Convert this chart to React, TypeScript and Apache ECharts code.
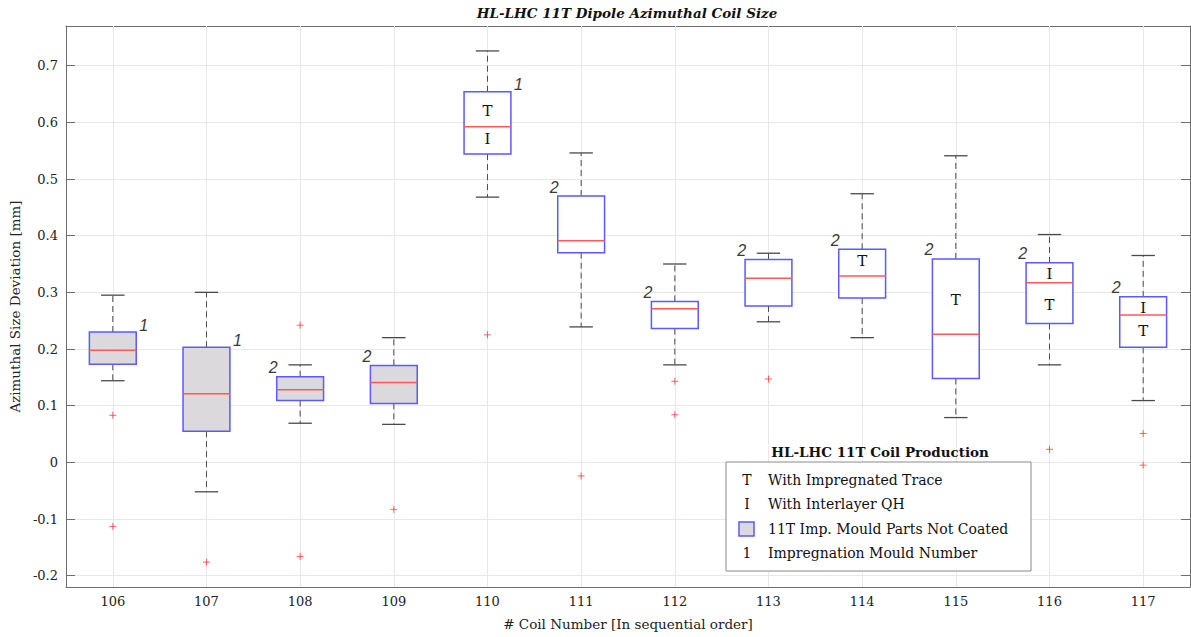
import React, { useEffect, useRef } from "react";
import * as echarts from "echarts";

const categories = ["106", "107", "108", "109", "110", "111", "112", "113", "114", "115", "116", "117"];
const upperWhisker = [0.295, 0.3, 0.172, 0.22, 0.726, 0.546, 0.35, 0.369, 0.474, 0.541, 0.402, 0.365];
const q3 = [0.23, 0.203, 0.151, 0.171, 0.654, 0.47, 0.284, 0.358, 0.376, 0.359, 0.352, 0.292];
const median = [0.198, 0.121, 0.128, 0.141, 0.592, 0.391, 0.271, 0.325, 0.329, 0.226, 0.317, 0.26];
const q1 = [0.173, 0.055, 0.109, 0.104, 0.544, 0.37, 0.236, 0.276, 0.29, 0.148, 0.245, 0.203];
const lowerWhisker = [0.144, -0.052, 0.069, 0.067, 0.468, 0.239, 0.172, 0.248, 0.22, 0.079, 0.172, 0.109];
const outliers: [string, number][] = [
  ["106", 0.083], ["106", -0.113], ["107", -0.176], ["108", 0.242], ["108", -0.166],
  ["109", -0.083], ["110", 0.225], ["111", -0.024], ["112", 0.143], ["112", 0.084],
  ["113", 0.147], ["116", 0.023], ["117", 0.051], ["117", -0.005],
];
const mouldNumber = [1, 1, 2, 2, 1, 2, 2, 2, 2, 2, 2, 2];
const uncoated = [true, true, true, true, false, false, false, false, false, false, false, false];
const traceLabelY: (number | null)[] = [null, null, null, null, 0.62, null, null, null, 0.356, 0.287, 0.278, 0.231];
const qhLabelY: (number | null)[] = [null, null, null, null, 0.571, null, null, null, null, null, 0.332, 0.273];

const chartTitle = "HL-LHC 11T Dipole Azimuthal Coil Size";
const xName = "# Coil Number [In sequential order]";
const yName = "Azimuthal Size Deviation [mm]";
const legendTitle = "HL-LHC 11T Coil Production";
const legendRows = [
  { key: "T", text: "With Impregnated Trace" },
  { key: "I", text: "With Interlayer QH" },
  { key: "box", text: "11T Imp. Mould Parts Not Coated" },
  { key: "1", text: "Impregnation Mould Number" },
];

const SERIF = "'DejaVu Serif', 'Liberation Serif', serif";
const SANS = "'Liberation Sans', 'DejaVu Sans', sans-serif";
const GRID = "#ebe6eb";
const AXIS = "#6e6e6e";
const BLUE = "#5a5aff";
const RED = "#ff5a5a";
const FILL = "#dcd9dc";

export default function App() {
  const ref = useRef<HTMLDivElement>(null);
  useEffect(() => {
    document.body.style.margin = "0";
    if (!ref.current) return;
    const chart = echarts.init(ref.current, undefined, { renderer: "svg" });

    const boxData = categories.map((c, i) => [i, lowerWhisker[i], q1[i], median[i], q3[i], upperWhisker[i]]);

    const textStyle = (text: string, x: number, y: number, align: string, vAlign: string, font: string, fill: string) => ({
      text, x, y, align, verticalAlign: vAlign, font, fill, stroke: "none", lineWidth: 0,
    });

    const renderItem = (params: any, api: any) => {
      const i = params.dataIndex;
      const idx = api.value(0);
      const band = api.size([1, 0])[0];
      const half = band * 0.25;
      const capHalf = band * 0.125;
      const pLo = api.coord([idx, api.value(1)]);
      const pQ1 = api.coord([idx, api.value(2)]);
      const pMed = api.coord([idx, api.value(3)]);
      const pQ3 = api.coord([idx, api.value(4)]);
      const pHi = api.coord([idx, api.value(5)]);
      const cx = pMed[0];
      const whiskerStyle = { stroke: "#4a4a4a", lineWidth: 1, lineDash: [6, 4], fill: "none" };
      const capStyle = { stroke: "#4a4a4a", lineWidth: 1.3, fill: "none" };
      const children: any[] = [
        { type: "line", shape: { x1: cx, y1: pQ3[1], x2: cx, y2: pHi[1] }, style: whiskerStyle },
        { type: "line", shape: { x1: cx, y1: pQ1[1], x2: cx, y2: pLo[1] }, style: whiskerStyle },
        { type: "line", shape: { x1: cx - capHalf, y1: pHi[1], x2: cx + capHalf, y2: pHi[1] }, style: capStyle },
        { type: "line", shape: { x1: cx - capHalf, y1: pLo[1], x2: cx + capHalf, y2: pLo[1] }, style: capStyle },
        {
          type: "rect",
          shape: { x: cx - half, y: pQ3[1], width: half * 2, height: pQ1[1] - pQ3[1] },
          style: { fill: uncoated[i] ? FILL : "#ffffff", stroke: BLUE, lineWidth: 1.5 },
        },
        { type: "line", shape: { x1: cx - half, y1: pMed[1], x2: cx + half, y2: pMed[1] }, style: { stroke: RED, lineWidth: 1.5, fill: "none" } },
      ];
      const m = mouldNumber[i];
      children.push({
        type: "text",
        style: textStyle(
          String(m),
          m === 1 ? cx + half + 3 : cx - half + 1,
          pQ3[1] + (m === 1 ? 1 : -1),
          m === 1 ? "left" : "right",
          "bottom",
          `italic 16px ${SANS}`,
          "#3a3a3a"
        ),
      });
      const t = traceLabelY[i];
      if (t !== null) {
        const p = api.coord([idx, t]);
        children.push({ type: "text", style: textStyle("T", cx, p[1], "center", "middle", `15px ${SERIF}`, "#111") });
      }
      const q = qhLabelY[i];
      if (q !== null) {
        const p = api.coord([idx, q]);
        children.push({ type: "text", style: textStyle("I", cx, p[1], "center", "middle", `15px ${SERIF}`, "#111") });
      }
      return { type: "group", children };
    };

    const lx = 726, ly = 462, lw = 305, lh = 109;
    const rowY = [480, 504, 529, 553];
    const graphicEls: any[] = [
      { type: "text", z: 100, style: { text: chartTitle, x: 627, y: 13, align: "center", verticalAlign: "middle", font: `italic bold 13.5px ${SERIF}`, fill: "#111" } },
      { type: "text", z: 100, style: { text: legendTitle, x: 880, y: 452, align: "center", verticalAlign: "middle", font: `bold 13.5px ${SERIF}`, fill: "#111" } },
      { type: "rect", z: 100, shape: { x: lx, y: ly, width: lw, height: lh }, style: { fill: "#fff", stroke: "#8a8a8a", lineWidth: 1 } },
    ];
    legendRows.forEach((r, k) => {
      if (r.key === "box") {
        graphicEls.push({ type: "rect", z: 101, shape: { x: 739, y: rowY[k] - 7, width: 15, height: 14 }, style: { fill: FILL, stroke: BLUE, lineWidth: 1.5 } });
      } else {
        graphicEls.push({ type: "text", z: 101, style: { text: r.key, x: 747, y: rowY[k], align: "center", verticalAlign: "middle", font: `14px ${SERIF}`, fill: "#111" } });
      }
      graphicEls.push({ type: "text", z: 101, style: { text: r.text, x: 768, y: rowY[k], align: "left", verticalAlign: "middle", font: `14px ${SERIF}`, fill: "#111" } });
    });

    const yCommon = {
      type: "value" as const,
      min: -0.22,
      max: 0.77,
      splitNumber: 10,
    };

    chart.setOption({
      animation: false,
      backgroundColor: "#ffffff",
      grid: { left: 62, right: 1, top: 26, bottom: 50, show: false },
      xAxis: [
        {
          type: "category",
          data: categories,
          position: "bottom",
          name: xName,
          nameLocation: "middle",
          nameGap: 30,
          nameTextStyle: { fontFamily: SERIF, fontSize: 13.5, color: "#222" },
          axisLine: { show: true, onZero: false, lineStyle: { color: AXIS, width: 1 } },
          axisTick: { show: true, inside: true, alignWithLabel: true, length: 9, lineStyle: { color: AXIS } },
          axisLabel: { fontFamily: SERIF, fontSize: 13, color: "#222", margin: 8 },
          splitLine: { show: false },
        },
        {
          type: "category",
          data: categories,
          position: "top",
          axisLine: { show: true, onZero: false, lineStyle: { color: AXIS, width: 1 } },
          axisTick: { show: true, inside: true, alignWithLabel: true, length: 9, lineStyle: { color: AXIS } },
          axisLabel: { show: false },
          splitLine: { show: false },
        },
      ],
      yAxis: [
        {
          ...yCommon,
          position: "left",
          name: yName,
          nameLocation: "middle",
          nameGap: 31,
          nameTextStyle: { fontFamily: SERIF, fontSize: 13.5, color: "#222" },
          axisLine: { show: true, lineStyle: { color: AXIS, width: 1 } },
          axisTick: { show: true, inside: true, length: 9, lineStyle: { color: AXIS } },
          axisLabel: { fontFamily: SERIF, fontSize: 13, color: "#222", margin: 8, showMinLabel: false, showMaxLabel: false },
          splitLine: { show: true, lineStyle: { color: GRID, width: 1 } },
        },
        {
          ...yCommon,
          position: "right",
          axisLine: { show: true, lineStyle: { color: AXIS, width: 1 } },
          axisTick: { show: true, inside: true, length: 9, lineStyle: { color: AXIS } },
          axisLabel: { show: false },
          splitLine: { show: false },
        },
      ],
      series: [
        {
          type: "line",
          data: [],
          z: 1,
          silent: true,
          markLine: {
            silent: true,
            z: 1,
            symbol: ["none", "none"],
            label: { show: false },
            lineStyle: { color: GRID, width: 1, type: "solid" },
            data: categories.map((c) => ({ xAxis: c })),
          },
        },
        {
          type: "custom",
          z: 10,
          renderItem,
          data: boxData,
          encode: { x: 0, y: [1, 2, 3, 4, 5] },
        },
        {
          type: "scatter",
          z: 11,
          data: outliers,
          symbol: "path://M0,5L10,5M5,0L5,10",
          symbolSize: 7,
          itemStyle: { color: "none", borderColor: "#ff3b3b", borderWidth: 1 },
        },
      ],
      graphic: graphicEls,
    });
    return () => chart.dispose();
  }, []);
  return <div ref={ref} style={{ width: 1191, height: 637 }} />;
}
